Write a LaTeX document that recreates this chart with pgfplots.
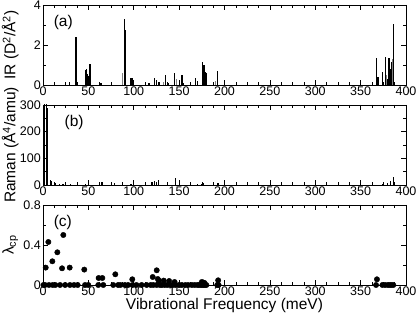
\documentclass[border=0pt]{standalone}
\usepackage{fontspec}
\setmainfont{Liberation Sans}
\usepackage{pgfplots}
\pgfplotsset{compat=1.18}
\pgfplotsset{
  myaxis/.style={
    scale only axis, width=363pt, height=80pt,
    xmin=0, xmax=400, xtick={0,50,...,400}, minor x tick num=3,
    tick align=inside, major tick length=5pt, minor tick length=3pt,
    tick style={black, line width=0.6pt},
    axis line style={line width=0.8pt},
    tick label style={font=\fontsize{12.5}{12.5}\selectfont},
    xticklabel style={inner sep=1.5pt},
    yticklabel style={inner sep=2pt},
    label style={font=\fontsize{15.5}{15.5}\selectfont},
    /pgf/number format/assume math mode=true,
    ylabel style={at={(axis description cs:-0.09,0.5)}, anchor=center},
    anchor=south west, scaled y ticks=false,
  },
}
\tikzset{panellab/.style={anchor=west, font=\fontsize{15.5}{15.5}\selectfont}}
\begin{document}
\begin{tikzpicture}
\useasboundingbox (-43pt,-31pt) rectangle (373pt,285pt);
% (a) IR
\begin{axis}[myaxis, at={(0,200pt)}, ymin=0, ymax=4, ytick={0,2,4}, minor ytick={1,3},
  ylabel={IR (D\textsuperscript{2}/Å\textsuperscript{2})}]
\addplot[ycomb, gray, line width=1.1pt] coordinates {
 (37,1.0) (88,0.6) (51,0.55) (147,0.3) (133,0.15) (190,0.2) (385.5,1.3) (379,0.5)};
\addplot[ycomb, black, line width=1.4pt] coordinates {
 (29,0.15) (36.4,2.4) (47,0.75) (48,0.8) (48.8,0.55) (49.5,0.45) (50.3,0.3) (52,1.05)
 (64,0.12) (89.5,3.3) (90.3,2.75) (97,0.35) (98,0.33) (117,0.12) (123,0.35) (125,0.25)
 (128,0.15) (135,0.5) (138,0.12) (145,0.6) (153,0.5) (155,0.12) (168,0.35) (170,0.18)
 (175.5,1.15) (176.5,0.9) (177.5,1.0) (178.5,0.65) (180,0.6) (192,0.7)
 (367.6,1.35) (369,0.4) (374.3,0.66) (377.6,1.4) (379.5,0.3) (381.3,1.33) (382.5,0.8)
 (384.2,1.16) (386,3.07)};
\node[panellab] at (rel axis cs:0.02,0.78) {(a)};
\end{axis}
% (b) Raman
\begin{axis}[myaxis, at={(0,100pt)}, ymin=0, ymax=300, ytick={0,100,200,300}, minor y tick num=1,
  ylabel={Raman (Å\textsuperscript{4}/amu)}]
\addplot[ycomb, black, line width=0.7pt] coordinates {(1.8,330) (3.3,330)};
\addplot[ycomb, black, line width=1.5pt] coordinates {(4.5,290) (4.9,270)};
\addplot[ycomb, black, line width=1.3pt] coordinates {
 (8,20) (9,15) (14,8) (18,5) (22,4) (30,3) (47,3) (65,12) (79,8) (97,5)
 (120,12) (123,15) (127,20) (146,25) (170,5) (175,5) (177,6) (193,8)
 (374,5) (380,8) (383,15) (386,30)};
\node[panellab] at (rel axis cs:0.05,0.78) {(b)};
\end{axis}
% (c) lambda_cp
\begin{axis}[myaxis, at={(0,0pt)}, ymin=0, ymax=0.8, ytick={0,0.4,0.8}, yticklabels={0,0.4,0.8},
  minor ytick={0.2,0.6}, clip=false,
  ylabel={λ\textsubscript{cp}},
  xlabel={Vibrational Frequency (meV)},
  xlabel style={yshift=2pt}]
\addplot[only marks, mark=*, mark size=2.7pt, black] coordinates {
 (3,0.174) (5.9,0.43) (10.3,0.237) (15.8,0.327) (21,0.167) (22.4,0.50) (29.4,0.174)
 (45.5,0.154) (61.3,0.07) (65.4,0.07) (79.7,0.107) (98.4,0.057) (120.9,0.08) (125.3,0.147)
 (126.5,0.06) (127.6,0.044) (133,0.044) (139,0.04) (145,0.03) (175,0.03) (176.5,0.025) (178,0.02)
 (193,0.047) (368,0.057)
 (0.5,0) (2.2,0) (6.6,0) (10.7,0) (13.6,0) (18.8,0) (24.4,0) (29.7,0) (34.2,0) (38.2,0)
 (46.3,0) (49.9,0) (60.9,0) (66.4,0) (77.4,0) (82.8,0) (85.4,0) (90.2,0) (93.8,0) (98.6,0)
 (103,0) (108.7,0) (114.2,0) (118.6,0) (121.6,0) (125.3,0) (128.9,0) (131,0) (134,0) (137,0)
 (140,0) (143,0) (146,0) (150,0) (153,0) (157,0) (160,0) (164,0) (167,0) (170,0) (172,0)
 (174,0) (175.5,0) (177,0) (178.5,0) (180,0) (192,0) (193.5,0)
 (367,0) (374,0) (377,0) (380,0) (382,0) (384,0) (386,0)};
\node[panellab] at (rel axis cs:0.02,0.78) {(c)};
\end{axis}
\end{tikzpicture}
\end{document}
